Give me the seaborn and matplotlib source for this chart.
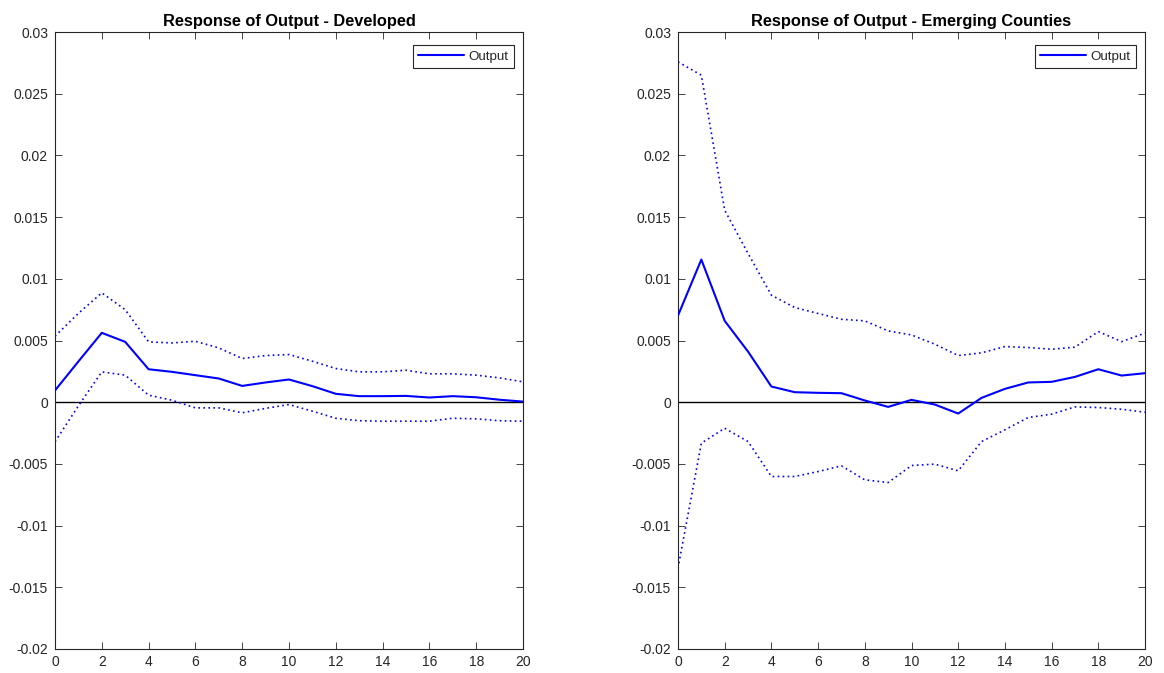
import numpy as np
import pandas as pd
import matplotlib
matplotlib.use("Agg")
import matplotlib.pyplot as plt
from matplotlib.ticker import FuncFormatter, MultipleLocator
import seaborn as sns

horizon = list(range(21))

dev_mid = [0.00095, 0.0033, 0.00562, 0.00489, 0.00267, 0.00246, 0.00219, 0.00192, 0.00132, 0.0016,
           0.00184, 0.0013, 0.00068, 0.00049, 0.00049, 0.00051, 0.00038, 0.00049, 0.0004, 0.0002, 0.00005]
dev_upper = [0.00535, 0.0072, 0.00886, 0.0075, 0.00489, 0.0048, 0.00494, 0.0044, 0.00354, 0.00378,
             0.00386, 0.00332, 0.00273, 0.00246, 0.00246, 0.00259, 0.0023, 0.0023, 0.00219, 0.00197, 0.00165]
dev_lower = [-0.0032, -0.0003, 0.00246, 0.00219, 0.00057, 0.00016, -0.00046, -0.00046, -0.00086, -0.0005,
             -0.00019, -0.00073, -0.0013, -0.0015, -0.00154, -0.00154, -0.00154, -0.0013, -0.00135, -0.0015, -0.00154]

emg_mid = [0.00702, 0.01156, 0.00659, 0.0041, 0.00127, 0.00081, 0.00076, 0.00073, 0.00014, -0.00038,
           0.00019, -0.00019, -0.00092, 0.00035, 0.00108, 0.0016, 0.00165, 0.00205, 0.00267, 0.00216, 0.00235]
emg_upper = [0.02758, 0.0265, 0.01556, 0.01205, 0.00867, 0.00767, 0.00719, 0.00672, 0.00659, 0.00578,
             0.00545, 0.0047, 0.00378, 0.0040, 0.00451, 0.00443, 0.00429, 0.00446, 0.00572, 0.00491, 0.0056]
emg_lower = [-0.01345, -0.00332, -0.00211, -0.00319, -0.00602, -0.00602, -0.00562, -0.00516, -0.00629, -0.00651,
             -0.00513, -0.00502, -0.00556, -0.00319, -0.00224, -0.00124, -0.00097, -0.00038, -0.00043, -0.00057, -0.00081]

titles = ["Response of Output - Developed", "Response of Output - Emerging Counties"]
legend_label = "Output"

sns.set_theme(style="white")
plt.rcParams["font.family"] = ["Liberation Sans", "DejaVu Sans"]

fig = plt.figure(figsize=(11.64, 6.73), dpi=100)
W, H = 1164, 673
top, bottom = 32, 649
axes_px = [(55, 523), (678, 1145)]

panels = [(dev_mid, dev_upper, dev_lower), (emg_mid, emg_upper, emg_lower)]
spine_col = "#262626"
blue = "#0000ff"

def fmt(v, pos):
    s = "%g" % round(v, 6)
    return "0" if s in ("-0", "0") else s

for (x0, x1), (mid, up, lo), title in zip(axes_px, panels, titles):
    ax = fig.add_axes([x0 / W, (H - bottom) / H, (x1 - x0) / W, (bottom - top) / H])
    df = pd.DataFrame({"h": horizon, "mid": mid, "up": up, "lo": lo})
    ax.axhline(0, color="black", lw=1.0, zorder=1)
    sns.lineplot(data=df, x="h", y="mid", ax=ax, color=blue, lw=1.5, label=legend_label, zorder=3)
    sns.lineplot(data=df, x="h", y="up", ax=ax, color=blue, lw=1.2, linestyle=(0, (1, 2)), zorder=2)
    sns.lineplot(data=df, x="h", y="lo", ax=ax, color=blue, lw=1.2, linestyle=(0, (1, 2)), zorder=2)
    ax.set_xlim(0, 20)
    ax.set_ylim(-0.02, 0.03)
    ax.xaxis.set_major_locator(MultipleLocator(2))
    ax.yaxis.set_major_locator(MultipleLocator(0.005))
    ax.yaxis.set_major_formatter(FuncFormatter(fmt))
    ax.set_xlabel("")
    ax.set_ylabel("")
    ax.tick_params(direction="in", length=5, width=0.6, color=spine_col, labelsize=10,
                   labelcolor="#262626", top=True, right=True, bottom=True, left=True)
    ax.tick_params(axis="y", pad=5)
    ax.tick_params(axis="x", pad=4)
    for sp in ax.spines.values():
        sp.set_visible(True)
        sp.set_color(spine_col)
        sp.set_linewidth(0.8)
    ax.set_title(title, fontsize=11.8, fontweight="bold", color="black", pad=4)
    leg = ax.legend(loc="upper right", bbox_to_anchor=(0.9807, 0.9789), borderaxespad=0,
                    fontsize=9.6, frameon=True, fancybox=False,
                    edgecolor=spine_col, framealpha=1, handlelength=3.4, handletextpad=0.38,
                    borderpad=0.4)
    leg.get_frame().set_linewidth(0.8)

fig.savefig("out.png", dpi=100)
